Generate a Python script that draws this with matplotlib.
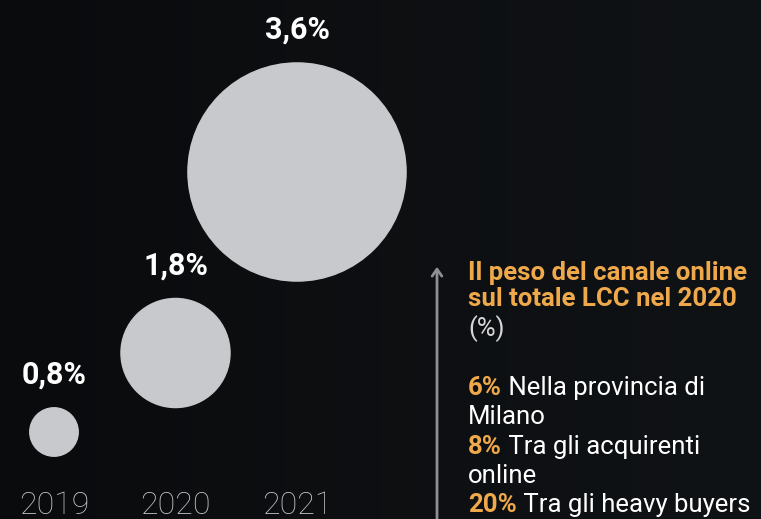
import numpy as np
import matplotlib.pyplot as plt
from matplotlib.patches import Circle

# data
years = ['2019', '2020', '2021']
shares = [0.8, 1.8, 3.6]
share_labels = ['0,8%', '1,8%', '3,6%']

side_title = ['Il peso del canale online', 'sul totale LCC nel 2020']
side_unit = '(%)'
side_values = ['6%', '8%', '20%']
side_texts = [' Nella provincia di\nMilano', ' Tra gli acquirenti\nonline', ' Tra gli heavy buyers']

# layout (pixel units)
W, H = 761, 519
x0, dx = 54, 121.5
cy = [432, 353, 172]
px_per_pt = 30.3
bg_dark, bg_light = '#0a0b0d', '#101316'
circle_col = '#c7c9cc'
orange = '#f0a94a'

fig = plt.figure(figsize=(W / 100, H / 100), dpi=100)
ax = fig.add_axes([0, 0, 1, 1])
ax.set_xlim(0, W)
ax.set_ylim(H, 0)
ax.axis('off')

# background gradient, darker on the left
grad = np.linspace(0, 1, 256)[None, :]
cmap = plt.matplotlib.colors.LinearSegmentedColormap.from_list('bg', [bg_dark, bg_light])
ax.imshow(grad, extent=[0, W, H, 0], aspect='auto', cmap=cmap, zorder=0)

font = ['Roboto', 'DejaVu Sans']
for i, (yr, v, lab) in enumerate(zip(years, shares, share_labels)):
    x = x0 + i * dx
    r = v * px_per_pt
    ax.add_patch(Circle((x, cy[i]), r, color=circle_col, zorder=2))
    ax.text(x, cy[i] - r - 33, lab, ha='center', va='center', color='white',
            fontsize=22, fontweight='bold', family=font)
    ax.text(x, 506, yr, ha='center', va='center', color='#c4c6c9',
            fontsize=23, fontweight='light', family=font)

# arrow
ax.annotate('', xy=(437, 264), xytext=(437, H + 5),
            arrowprops=dict(arrowstyle='->,head_length=0.5,head_width=0.35',
                            color='#8c8f93', lw=2))

# side text
tx = 468
fs = 18.5
for j, line in enumerate(side_title):
    ax.text(tx, 273 + j * 25.5, line, ha='left', va='center', color=orange,
            fontsize=fs, fontweight='bold', family=font)
ax.text(tx, 329, side_unit, ha='left', va='center', color='#d6d6d6',
        fontsize=fs, family=font)

line_h = 29.3
row = 0
for val, txt in zip(side_values, side_texts):
    y = 388 + row * line_h
    t = ax.text(tx, y, val, ha='left', va='center', color=orange,
                fontsize=fs, fontweight='bold', family=font)
    first, *rest = txt.split('\n')
    ax.annotate(first, xy=(1, 0.5), xycoords=t, ha='left', va='center',
                color='white', fontsize=fs, family=font)
    row += 1
    for extra in rest:
        ax.text(tx, 388 + row * line_h, extra, ha='left', va='center',
                color='white', fontsize=fs, family=font)
        row += 1

fig.savefig('out.png', dpi=100, facecolor=bg_dark)
